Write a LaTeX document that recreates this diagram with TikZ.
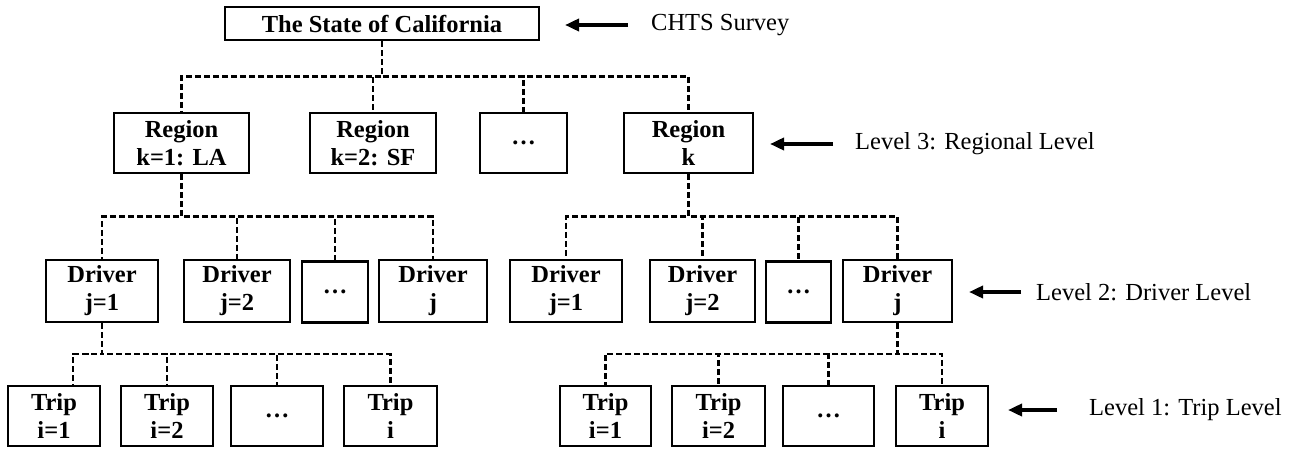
\documentclass[tikz,border=0pt]{standalone}
\usepackage{fontspec}
\setmainfont{Liberation Serif}
\usetikzlibrary{arrows.meta,calc}
\tikzset{
  box/.style={draw, line width=2.8pt, align=center, inner sep=0pt, minimum height=60pt,
    font=\fontsize{24.5}{28}\selectfont\bfseries},
  link/.style={line width=2.3pt, dash pattern=on 6pt off 3pt},
  elbow/.style={to path={|- ($(\tikztostart)!.5!(\tikztotarget)$) -| (\tikztotarget)}},
  note/.style={anchor=west, inner sep=0pt, font=\fontsize{24.5}{28}\selectfont},
  pointer/.style={line width=3.5pt, -{Triangle[length=14pt,width=12pt]}},
}
\begin{document}
\begin{tikzpicture}[x=1pt,y=-1pt]
\useasboundingbox (0,0) rectangle (1298,450);
% state
\node (state) at (382,23.5) [box, minimum width=314pt, minimum height=33pt] {The State of California};
% regions
\node (r1) at (181.5,143) [box, minimum width=135pt] {Region\\k=1: LA};
\node (r2) at (373,143) [box, minimum width=126pt] {Region\\k=2: SF};
\node (rdots) at (523.5,143) [box, minimum width=87pt] {\ldots};
\node (rk) at (688.5,143) [box, minimum width=129pt] {Region\\k};
% drivers
\node (d1) at (102,291) [box, minimum width=112pt, minimum height=62pt] {Driver\\j=1};
\node (d2) at (237,291) [box, minimum width=106pt, minimum height=62pt] {Driver\\j=2};
\node (ddots) at (335,292) [box, minimum width=66pt, minimum height=61pt] {\ldots};
\node (dj) at (433,291) [box, minimum width=108pt, minimum height=62pt] {Driver\\j};
\node (e1) at (566,291) [box, minimum width=112pt, minimum height=62pt] {Driver\\j=1};
\node (e2) at (702.5,291) [box, minimum width=105pt, minimum height=62pt] {Driver\\j=2};
\node (edots) at (798.5,292) [box, minimum width=65pt, minimum height=61pt] {\ldots};
\node (ej) at (897.5,291) [box, minimum width=109pt, minimum height=62pt] {Driver\\j};
% trips
\node (t1) at (54,416) [box, minimum width=92pt] {Trip\\i=1};
\node (t2) at (167,416) [box, minimum width=92pt] {Trip\\i=2};
\node (tdots) at (277,416) [box, minimum width=92pt] {\ldots};
\node (ti) at (390.5,416) [box, minimum width=93pt] {Trip\\i};
\node (u1) at (605.5,416) [box, minimum width=91pt] {Trip\\i=1};
\node (u2) at (718.5,416) [box, minimum width=93pt] {Trip\\i=2};
\node (udots) at (828.5,416) [box, minimum width=91pt] {\ldots};
\node (ui) at (942,416) [box, minimum width=92pt] {Trip\\i};
\coordinate (t1top) at ([xshift=19pt]t1.north);
% tree links
\foreach \c in {r1,r2,rdots,rk} \draw [link] (state.south) to[elbow] (\c.north);
\foreach \c in {d1,d2,ddots,dj} \draw [link] (r1.south) to[elbow] (\c.north);
\foreach \c in {e1,e2,edots,ej} \draw [link] (rk.south) to[elbow] (\c.north);
\foreach \c in {t1top,t2.north,tdots.north,ti.north} \draw [link] (d1.south) to[elbow] (\c);
\foreach \c in {u1,u2,udots,ui} \draw [link] (ej.south) to[elbow] (\c.north);
% level notes
\node (survey) at (651,25) [note] {CHTS Survey};
\node (lvl3) at (855,144) [note] {Level 3: Regional Level};
\node (lvl2) at (1036,292) [note] {Level 2: Driver Level};
\node (lvl1) at (1089,410) [note] {Level 1: Trip Level};
\draw [pointer] ([xshift=-23pt]survey.west) -- ([xshift=-86pt]survey.west);
\draw [pointer] ([xshift=-22pt]lvl3.west) -- ([xshift=-85pt]lvl3.west);
\draw [pointer] ([xshift=-15pt]lvl2.west) -- ([xshift=-67pt]lvl2.west);
\draw [pointer] ([xshift=-32pt]lvl1.west) -- ([xshift=-81pt]lvl1.west);
\end{tikzpicture}
\end{document}
